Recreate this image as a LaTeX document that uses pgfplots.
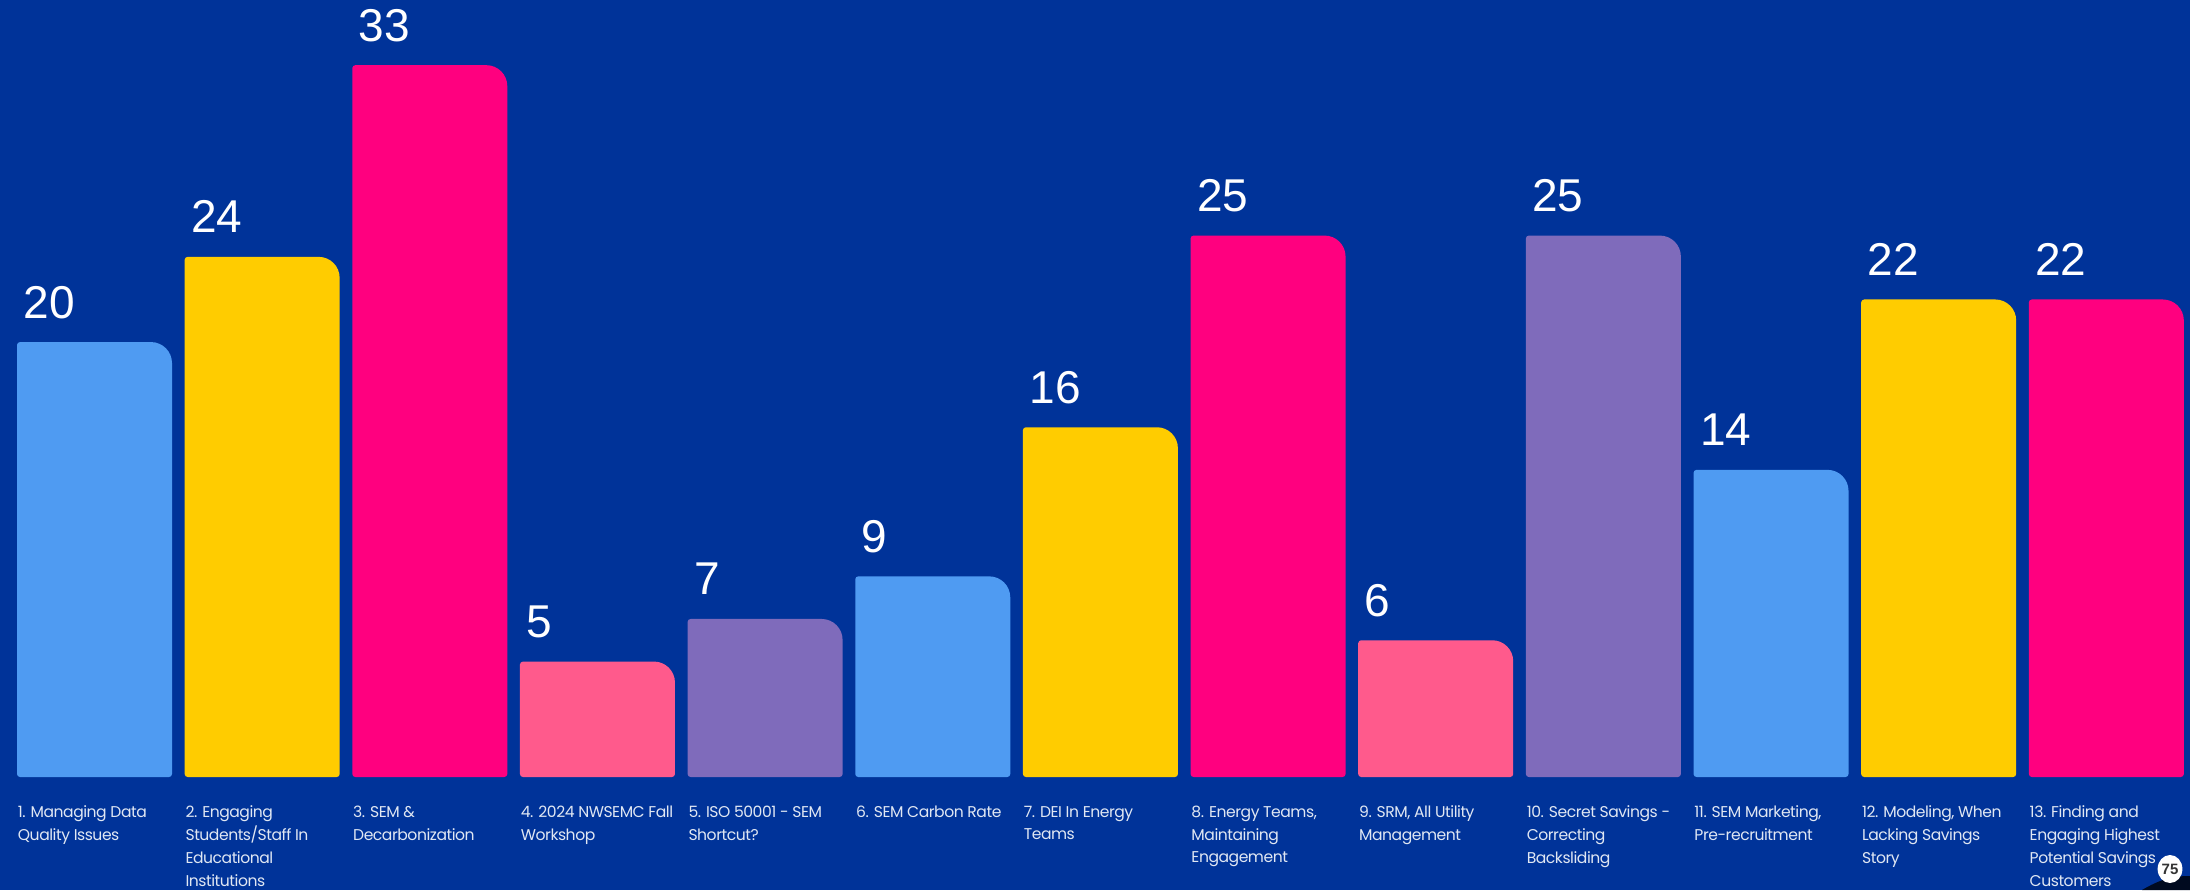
\documentclass[border=0pt]{standalone}
\usepackage{pgfplots}
\pgfplotsset{compat=1.18}
\usepackage{fontspec}
\setmainfont{Liberation Sans}
\newfontfamily\labelfont[LetterSpace=-3]{Poppins}

\definecolor{pagebg}{HTML}{003399}
\definecolor{barblue}{HTML}{4F9BF2}
\definecolor{baryellow}{HTML}{FFCC00}
\definecolor{barmagenta}{HTML}{FF007F}
\definecolor{barpink}{HTML}{FF5A8C}
\definecolor{barpurple}{HTML}{7F6BBB}

% One pixel of the canvas is 0.5pt; a vote is 10.65pt tall, and bars stand on -0.42.
\newlength{\barwidth}\setlength{\barwidth}{77.5pt}
\pgfdeclareplotmark{tabbar}{%
  \pgfmathsetmacro\barheight{(\rawy+0.42)*10.65}%
  \path[fill=\barcolor, draw=none] (-0.5\barwidth,-\barheight pt)
    [rounded corners=1.5pt] -- (-0.5\barwidth,0pt)
    [rounded corners=10.5pt] -- (0.5\barwidth,0pt)
    [rounded corners=1.5pt] -- (0.5\barwidth,-\barheight pt) -- cycle;
}

\pgfplotsset{
  votebars/.style={
    only marks, scatter, mark=tabbar,
    scatter/use mapped color={draw=none,fill=#1},
    visualization depends on={rawy \as \rawy},
    visualization depends on={value #1 \as \barcolor},
    nodes near coords,
    nodes near coords style={
      anchor=base west, inner sep=0pt, text=white,
      font=\fontsize{23}{23}\selectfont,
      xshift=-35.7pt, yshift=12pt,
      /pgf/number format/assume math mode=true},
  },
}

\begin{document}
\begin{tikzpicture}
  \path[use as bounding box, fill=pagebg] (0,0) rectangle (1095pt,445pt);
  \begin{axis}[
    at={(0pt,56.5pt)}, anchor=south west,
    scale only axis, width=1095pt, height=388.5pt,
    xmin=-0.5637, xmax=12.499,
    ymin=-0.42, ymax=36.06,
    clip=false,
    axis line style={draw=none},
    ytick=\empty,
    xtick={0,1,2,3,4,5,6,7,8,9,10,11,12},
    xticklabels={
      {1. Managing Data\\Quality Issues},
      {2. Engaging\\Students/Staff In\\Educational\\Institutions},
      {3. SEM \&\\Decarbonization},
      {4. 2024 NWSEMC Fall\\Workshop},
      {5. ISO 50001 - SEM\\Shortcut?},
      {6. SEM Carbon Rate},
      {7. DEI In Energy\\Teams},
      {8. Energy Teams,\\Maintaining\\Engagement},
      {9. SRM, All Utility\\Management},
      {10. Secret Savings -\\Correcting\\Backsliding},
      {11. SEM Marketing,\\Pre-recruitment},
      {12. Modeling, When\\Lacking Savings\\Story},
      {13. Finding and\\Engaging Highest\\Potential Savings\\Customers}},
    major tick length=0pt,
    xticklabel style={
      anchor=north west, align=left, text=white!88!pagebg, inner sep=0pt,
      font=\labelfont\fontsize{7.8}{11.4}\selectfont,
      xshift=-38.5pt, yshift=-14.2pt},
  ]
    \addplot[votebars=barblue] coordinates {(0,20) (5,9) (10,14)};
    \addplot[votebars=baryellow] coordinates {(1,24) (6,16) (11,22)};
    \addplot[votebars=barmagenta] coordinates {(2,33) (7,25) (12,22)};
    \addplot[votebars=barpink] coordinates {(3,5) (8,6)};
    \addplot[votebars=barpurple] coordinates {(4,7) (9,25)};
  \end{axis}
  % Participant counter in the corner
  \fill[black!80!pagebg] (1095pt,0pt) -- (1095pt,7pt) to[out=180,in=30] (1071pt,0pt) -- cycle;
  \fill[white] (1085pt,10.5pt) ellipse (6.2pt and 7pt);
  \node[inner sep=0pt, text=black!80] at (1085pt,10.5pt) {\fontsize{7.5}{7.5}\selectfont\bfseries 75};
\end{tikzpicture}
\end{document}
